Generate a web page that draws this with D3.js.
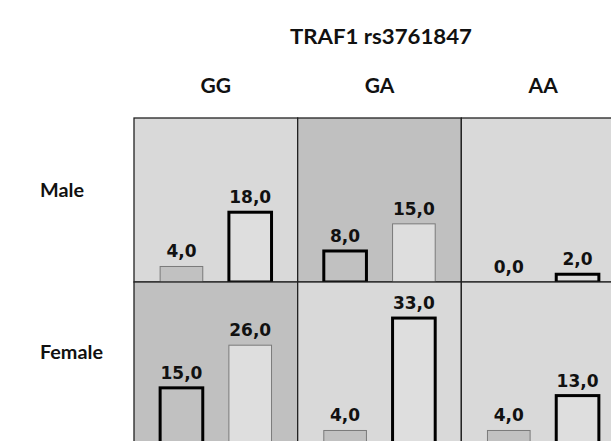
<!DOCTYPE html>
<html>
<head>
<meta charset="utf-8">
<script src="https://cdn.jsdelivr.net/npm/d3@7"></script>
<style>
  html, body { margin: 0; padding: 0; background: #fff; }
  svg { display: block; }
</style>
</head>
<body>
<script>
const width = 611
const height = 441

const title = 'TRAF1 rs3761847'
const genotypes = ['GG', 'GA', 'AA']
const sexes = ['Male', 'Female']
const pairIndex = [0, 1]
// two bars per cell
const maleValues = [[4, 18], [8, 15], [0, 2]]
const femaleValues = [[15, 26], [4, 33], [4, 13]]
// which bar in each cell gets the heavy outline
const maleHighlight = [1, 0, 1]
const femaleHighlight = [0, 1, 1]
// cell shading: 1 = dark
const maleShade = [0, 1, 0]
const femaleShade = [1, 0, 0]

const cells = []
sexes.forEach(function (sex, si) {
  const vals = si === 0 ? maleValues : femaleValues
  const hi = si === 0 ? maleHighlight : femaleHighlight
  const sh = si === 0 ? maleShade : femaleShade
  genotypes.forEach(function (g, gi) {
    cells.push({ sex: sex, genotype: g, values: vals[gi], highlight: hi[gi], shade: sh[gi] })
  })
})

const svg = d3.select('body')
  .append('svg')
  .attr('width', width)
  .attr('height', height)

const xScale = d3.scaleBand()
  .domain(genotypes)
  .range([134, 625])

const yScale = d3.scaleBand()
  .domain(sexes)
  .range([118, 446])

const cellW = xScale.bandwidth()
const cellH = yScale.bandwidth()

const barScale = d3.scaleBand()
  .domain(pairIndex)
  .range([0, cellW])
  .paddingInner(0.38)
  .paddingOuter(0.38)

const vScale = d3.scaleLinear()
  .domain([0, 42.3])
  .range([cellH, 0])

const labelFont = '"Lato", "Open Sans", sans-serif'

svg.append('text')
  .attr('x', 290)
  .attr('y', 44)
  .attr('textLength', 182)
  .attr('lengthAdjust', 'spacingAndGlyphs')
  .attr('font-family', labelFont)
  .attr('font-weight', 'bold')
  .attr('font-size', '20px')
  .attr('fill', '#111')
  .text(title)

svg.selectAll('.colhead')
  .data(genotypes)
  .enter()
  .append('text')
  .attr('class', 'colhead')
  .attr('x', function (d) { return xScale(d) + cellW / 2 })
  .attr('y', 93)
  .attr('text-anchor', 'middle')
  .attr('font-family', labelFont)
  .attr('font-weight', 'bold')
  .attr('font-size', '21px')
  .attr('fill', '#111')
  .text(function (d) { return d })

// row labels, stretched a little like the source
svg.selectAll('.rowhead')
  .data(sexes)
  .enter()
  .append('text')
  .attr('class', 'rowhead')
  .attr('transform', function (d, i) {
    return `translate(40, ${yScale(d) + (i === 0 ? 79 : 77)}) scale(1.1, 1)`
  })
  .attr('font-family', labelFont)
  .attr('font-weight', 'bold')
  .attr('font-size', '18px')
  .attr('fill', '#111')
  .text(function (d) { return d })

const cell = svg.selectAll('.cell')
  .data(cells)
  .enter()
  .append('g')
  .attr('class', 'cell')
  .attr('transform', function (d) {
    return `translate(${xScale(d.genotype)}, ${yScale(d.sex)})`
  })

cell.append('rect')
  .attr('width', cellW)
  .attr('height', cellH)
  .attr('fill', function (d) { return d.shade ? '#c0c0c0' : '#d9d9d9' })
  .attr('stroke', '#222')
  .attr('stroke-width', 1.3)

cell.selectAll('.bar')
  .data(function (d) {
    return d.values.map(function (v, i) {
      return { i: i, value: v, heavy: d.highlight === i }
    })
  })
  .enter()
  .filter(function (d) { return d.value > 0 })
  .append('rect')
  .attr('class', 'bar')
  .attr('x', function (d) { return barScale(d.i) })
  .attr('y', function (d) { return vScale(d.value) })
  .attr('width', barScale.bandwidth())
  .attr('height', function (d) { return cellH - vScale(d.value) })
  .attr('fill', function (d) { return d.i === 0 ? '#c1c1c1' : '#dedede' })
  .attr('stroke', function (d) { return d.heavy ? '#000' : '#7a7a7a' })
  .attr('stroke-width', function (d) { return d.heavy ? 3 : 1 })

cell.selectAll('.val')
  .data(function (d) {
    return d.values.map(function (v, i) { return { i: i, value: v } })
  })
  .enter()
  .append('text')
  .attr('class', 'val')
  .attr('x', function (d) { return barScale(d.i) + barScale.bandwidth() / 2 })
  .attr('y', function (d) { return vScale(d.value) - 9 })
  .attr('text-anchor', 'middle')
  .attr('font-family', '"DejaVu Sans", sans-serif')
  .attr('font-weight', 'bold')
  .attr('font-size', '17px')
  .attr('fill', '#111')
  .text(function (d) { return d3.format('.1f')(d.value).replace('.', ',') })
</script>
</body>
</html>
